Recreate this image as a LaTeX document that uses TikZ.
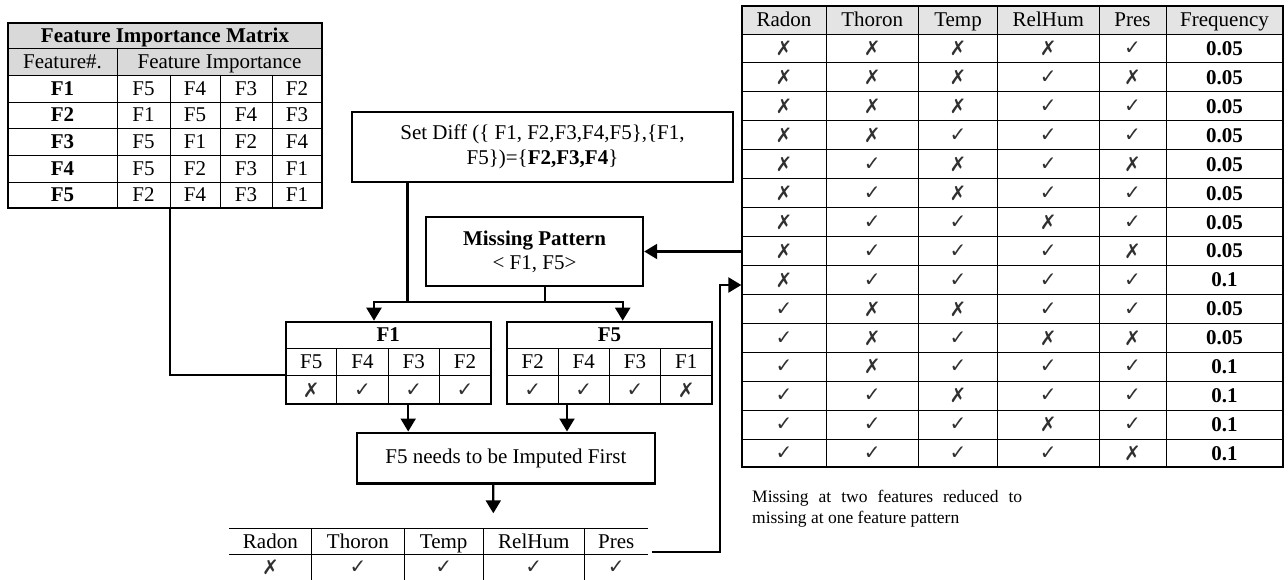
\documentclass[tikz,border=0pt]{standalone}
\usepackage{fontspec}
\setmainfont{Liberation Serif}
\newfontfamily\symf{DejaVu Sans}
\usetikzlibrary{arrows.meta}
\definecolor{hdrA}{HTML}{D9D9D9}
\definecolor{hdrB}{HTML}{E4E4E4}
\definecolor{mkc}{HTML}{303030}
\newcommand{\Yk}{{\symf\char"2713}}
\newcommand{\Nk}{{\symf\char"2717}}
\newcommand{\fs}{\fontsize{21}{25}\selectfont}
\begin{document}
\begin{tikzpicture}[x=1pt,y=-1pt,
  txt/.style={inner sep=0pt, font=\fs, text height=14pt, text depth=0pt},
  btxt/.style={txt, font=\fs\bfseries},
  mk/.style={inner sep=0pt, font=\symf\fontsize{20}{22}\selectfont, text=mkc},
  box/.style={draw, line width=2.4pt, inner sep=0pt, align=center, font=\fs},
  frame/.style={draw, line width=1.6pt, inner sep=0pt},
  grid/.style={line width=0.9pt},
  conn/.style={line width=2.2pt},
  arr/.style={conn, -{Triangle[length=13pt,width=15pt]}}
]
\useasboundingbox[fill=white] (0,0) rectangle (1288,580);

% ---------------- Feature importance matrix ----------------
\fill[hdrA] (8,23) rectangle (322,75);
\foreach \yy in {48,75,102,128,155,182} \draw[grid] (8,\yy) -- (322,\yy);
\draw[grid] (117,48) -- (117,208);
\foreach \xx in {170,220,272} \draw[grid] (\xx,75) -- (\xx,208);
\node[frame, minimum width=314pt, minimum height=185pt] (fim) at (165,115.5) {};
\node[btxt] (fimT) at (165,35.5) {Feature Importance Matrix};
\node[txt] (fimH1) at (62.5,61.5) {Feature\#.};
\node[txt] (fimH2) at (219.5,61.5) {Feature Importance};
\foreach \i/\lb/\a/\b/\c/\d in {1/F1/F5/F4/F3/F2, 2/F2/F1/F5/F4/F3, 3/F3/F5/F1/F2/F4, 4/F4/F5/F2/F3/F1, 5/F5/F2/F4/F3/F1}{
  \pgfmathsetmacro{\yy}{75+26.6*(\i-0.5)}
  \node[btxt] (fim-\i-0) at (62.5,\yy) {\lb};
  \node[txt] (fim-\i-1) at (143.5,\yy) {\a};
  \node[txt] (fim-\i-2) at (195,\yy) {\b};
  \node[txt] (fim-\i-3) at (246,\yy) {\c};
  \node[txt] (fim-\i-4) at (297,\yy) {\d};
}

% ---------------- Boxes ----------------
\node[box, minimum width=381pt, minimum height=70pt] (sd) at (542.5,147)
  {Set Diff (\{ F1, F2,F3,F4,F5\},\{F1,\\F5\})=\{\textbf{F2,F3,F4}\}};
\node[box, minimum width=217pt, minimum height=69pt, font=\fontsize{21}{24}\selectfont] (mp) at (534.5,251.5)
  {\textbf{Missing Pattern}\\< F1, F5>};
\node[box, minimum width=298pt, minimum height=50.6pt] (imp) at (505.9,458)
  {F5 needs to be Imputed First};

% ---------------- F1 table ----------------
\draw[grid] (285.7,348) -- (490.7,348);
\draw[grid] (285.7,375.7) -- (490.7,375.7);
\foreach \xx in {336.7,388.3,439.3} \draw[grid] (\xx,348) -- (\xx,404);
\node[frame, line width=2pt, minimum width=205pt, minimum height=82.3pt] (t1) at (388.2,362.85) {};
\node[btxt] (t1T) at (388.2,334.85) {F1};
\foreach \j/\xx/\h/\m in {1/311.2/F5/\Nk, 2/362.5/F4/\Yk, 3/413.8/F3/\Yk, 4/465/F2/\Yk}{
  \node[txt] (t1h-\j) at (\xx,361.85) {\h};
  \node[mk] (t1m-\j) at (\xx,389.85) {\m};
}

% ---------------- F5 table ----------------
\draw[grid] (507.3,348) -- (711.7,348);
\draw[grid] (507.3,375.7) -- (711.7,375.7);
\foreach \xx in {558.3,609.3,660.7} \draw[grid] (\xx,348) -- (\xx,404);
\node[frame, line width=2pt, minimum width=204.4pt, minimum height=82.3pt] (t5) at (609.5,362.85) {};
\node[btxt] (t5T) at (609.5,334.85) {F5};
\foreach \j/\xx/\h/\m in {1/532.8/F2/\Yk, 2/583.8/F4/\Yk, 3/635/F3/\Yk, 4/686.2/F1/\Nk}{
  \node[txt] (t5h-\j) at (\xx,361.85) {\h};
  \node[mk] (t5m-\j) at (\xx,389.85) {\m};
}

% ---------------- bottom table ----------------
\node[inner sep=0pt, minimum width=419.3pt, minimum height=52pt] (bt) at (438.65,554.3) {};
\draw[grid] (229,528.3) -- (648.3,528.3);
\draw[grid] (229,554) -- (648.3,554);
\foreach \xx in {311.7,404,483.3,584.3} \draw[grid] (\xx,528.3) -- (\xx,580);
\foreach \j/\xx/\h/\m in {1/270.4/Radon/\Nk, 2/357.9/Thoron/\Yk, 3/443.7/Temp/\Yk, 4/533.8/RelHum/\Yk, 5/616.3/Pres/\Yk}{
  \node[txt] (bth-\j) at (\xx,541.2) {\h};
  \node[mk] (btm-\j) at (\xx,567.5) {\m};
}

% ---------------- right table ----------------
\fill[hdrB] (742,6) rectangle (1283,34);
\foreach \i in {0,...,14} \draw[grid] (742,{34+28.93*\i}) -- (1283,{34+28.93*\i});
\foreach \xx in {826,918.5,997.5,1099,1166} \draw[grid] (\xx,6) -- (\xx,467);
\node[frame, line width=1.3pt, minimum width=541pt, minimum height=461pt] (rt) at (1012.5,236.5) {};
\foreach \j/\xx/\h in {1/784/Radon, 2/872.25/Thoron, 3/958/Temp, 4/1048.25/RelHum, 5/1132.5/Pres, 6/1224.5/Frequency}{
  \node[txt] (rth-\j) at (\xx,20) {\h};
}
\foreach \i/\a/\b/\c/\d/\e/\f in {
  1/\Nk/\Nk/\Nk/\Nk/\Yk/0.05,
  2/\Nk/\Nk/\Nk/\Yk/\Nk/0.05,
  3/\Nk/\Nk/\Nk/\Yk/\Yk/0.05,
  4/\Nk/\Nk/\Yk/\Yk/\Yk/0.05,
  5/\Nk/\Yk/\Nk/\Yk/\Nk/0.05,
  6/\Nk/\Yk/\Nk/\Yk/\Yk/0.05,
  7/\Nk/\Yk/\Yk/\Nk/\Yk/0.05,
  8/\Nk/\Yk/\Yk/\Yk/\Nk/0.05,
  9/\Nk/\Yk/\Yk/\Yk/\Yk/0.1,
  10/\Yk/\Nk/\Nk/\Yk/\Yk/0.05,
  11/\Yk/\Nk/\Yk/\Nk/\Nk/0.05,
  12/\Yk/\Nk/\Yk/\Yk/\Yk/0.1,
  13/\Yk/\Yk/\Nk/\Yk/\Yk/0.1,
  14/\Yk/\Yk/\Yk/\Nk/\Yk/0.1,
  15/\Yk/\Yk/\Yk/\Yk/\Nk/0.1}{
  \pgfmathsetmacro{\yy}{34+28.93*(\i-0.5)}
  \node[mk] (rt-\i-1) at (784,\yy) {\a};
  \node[mk] (rt-\i-2) at (872.25,\yy) {\b};
  \node[mk] (rt-\i-3) at (958,\yy) {\c};
  \node[mk] (rt-\i-4) at (1048.25,\yy) {\d};
  \node[mk] (rt-\i-5) at (1132.5,\yy) {\e};
  \node[btxt] (rt-\i-6) at (1224.5,\yy) {\f};
}

% caption
\node[anchor=north west, inner sep=0pt, text width=270pt, align=justify,
  font=\fontsize{17.5}{21}\selectfont] (cap) at (752,490)
  {Missing at two features reduced to missing at one feature pattern};

% ---------------- connectors ----------------
\coordinate (jL) at (374,301.7);
\coordinate (jR) at (622.7,301.7);
\coordinate (turn) at (720,285);
\coordinate (impend) at (493.3,513.3);

\draw[conn] ([xshift=5pt]fim.south) |- ([yshift=-12.2pt]t1.west);
\draw[conn] ([xshift=-135pt]sd.south) -- ([xshift=-135pt]sd.south |- jL);
\draw[conn] ([xshift=10.5pt]mp.south) -- ([xshift=10.5pt]mp.south |- jL);
\draw[arr] (jR) -- (jL) -- (jL |- t1.north);
\draw[arr] (jL) -- (jR) -- (jR |- t5.north);
\draw[arr] ([xshift=20pt]t1.south) -- ([xshift=20pt]t1.south |- imp.north);
\draw[arr] ([xshift=-42.5pt]t5.south) -- ([xshift=-42.5pt]t5.south |- imp.north);
\draw[arr] ([xshift=-12.6pt]imp.south) -- (impend);
\draw[arr] ([xshift=3pt,yshift=2.6pt]bt.east) -| (turn) -- (turn -| rt.west);
\draw[arr] (mp.east -| rt.west) -- (mp.east);
\end{tikzpicture}
\end{document}
